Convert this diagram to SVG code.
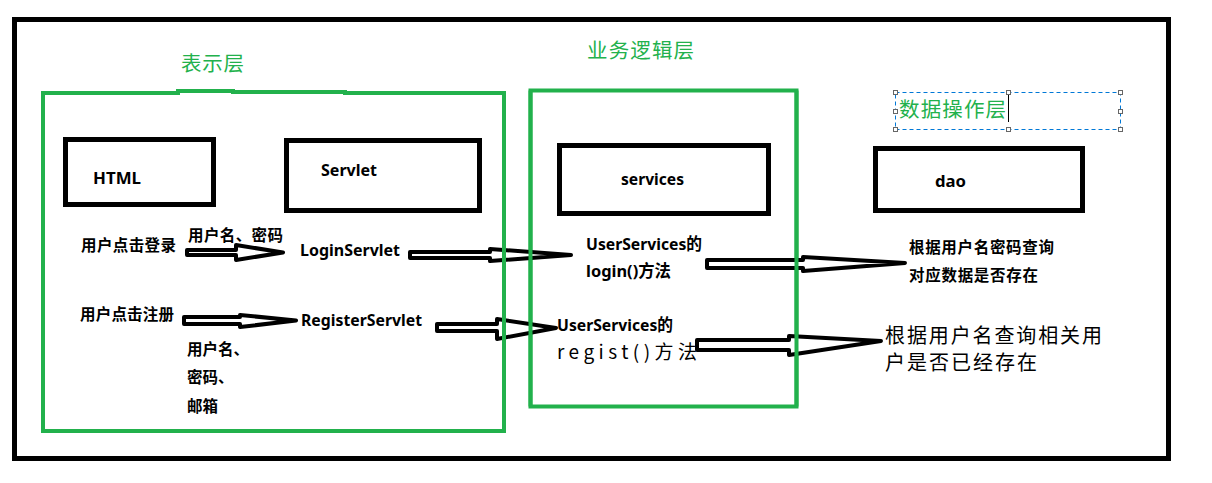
<svg xmlns="http://www.w3.org/2000/svg" width="1212" height="483" viewBox="0 0 1212 483">
<style>
.frame{fill:none;stroke:#000;stroke-width:5}
.layer{fill:none;stroke:#22b14c;stroke-width:4}
.box{fill:#fff;stroke:#000;stroke-width:5}
.arrow{fill:#fff;stroke:#000;stroke-width:4;stroke-linejoin:round}
.b{font-family:"Noto Sans","Noto Sans CJK SC",sans-serif;font-weight:bold;font-size:16.5px;fill:#000}
.cjk{font-family:"Noto Sans CJK SC",sans-serif;font-weight:bold;font-size:15.5px;fill:#000}
.sf{font-family:"Noto Sans CJK SC",sans-serif;font-weight:normal;fill:#000}
.head{font-family:"Noto Sans CJK SC",sans-serif;font-size:20.5px;fill:#22b14c}
.sel{fill:none;stroke:#0078d7;stroke-width:1;stroke-dasharray:4 3}
.hd{fill:#fff;stroke:#666;stroke-width:1}
</style>
<rect width="1212" height="483" fill="#fff"/>
<rect class="frame" x="14.5" y="19.5" width="1154" height="439"/>

<g id="layer-presentation">
<path class="layer" d="M43,431 V93 H178 V91 H233 V92 H345 V93 H504 V431 Z"/>
<text class="head" x="181" y="71" textLength="63">表示层</text>
</g>
<g id="layer-business">
<rect class="layer" x="530.5" y="90.5" width="266" height="316"/>
<text class="head" x="587" y="58" textLength="107">业务逻辑层</text>
</g>
<g id="layer-data">
<rect class="sel" x="895.5" y="92.5" width="225" height="37"/>
<rect class="hd" x="893.5" y="90.5" width="4" height="4"/>
<rect class="hd" x="1006.5" y="90.5" width="4" height="4"/>
<rect class="hd" x="1118.5" y="90.5" width="4" height="4"/>
<rect class="hd" x="893.5" y="109.5" width="4" height="4"/>
<rect class="hd" x="1118.5" y="109.5" width="4" height="4"/>
<rect class="hd" x="893.5" y="127.5" width="4" height="4"/>
<rect class="hd" x="1006.5" y="127.5" width="4" height="4"/>
<rect class="hd" x="1118.5" y="127.5" width="4" height="4"/>
<text class="head" x="899" y="117" textLength="107">数据操作层</text>
<line x1="1008.5" y1="95" x2="1008.5" y2="122" stroke="#000" stroke-width="1"/>
</g>

<g id="node-html">
<rect class="box" x="65.5" y="139.5" width="148" height="65"/>
<text class="b" x="93" y="184" textLength="48" lengthAdjust="spacingAndGlyphs">HTML</text>
</g>
<g id="node-servlet">
<rect class="box" x="286.5" y="140.5" width="193" height="70"/>
<text class="b" x="321" y="176" textLength="56" lengthAdjust="spacingAndGlyphs">Servlet</text>
</g>
<g id="node-services">
<rect class="box" x="559.5" y="145.5" width="209" height="68"/>
<text class="b" x="621" y="185" textLength="63" lengthAdjust="spacingAndGlyphs">services</text>
</g>
<g id="node-dao">
<rect class="box" x="875.5" y="148.5" width="207" height="62"/>
<text class="b" x="935" y="187" textLength="31" lengthAdjust="spacingAndGlyphs">dao</text>
</g>

<g id="node-login-click">
<text class="cjk" x="81" y="251" textLength="95">用户点击登录</text>
</g>
<g id="node-register-click">
<text class="cjk" x="80" y="320" textLength="94">用户点击注册</text>
</g>
<g id="node-loginservlet">
<text class="b" x="300" y="256" textLength="100" lengthAdjust="spacingAndGlyphs">LoginServlet</text>
</g>
<g id="node-registerservlet">
<text class="b" x="301" y="326" textLength="121" lengthAdjust="spacingAndGlyphs">RegisterServlet</text>
</g>
<g id="node-login-method">
<text class="b" x="586" y="250" textLength="116" lengthAdjust="spacingAndGlyphs">UserServices的</text>
<text class="b" x="586" y="277" textLength="85" lengthAdjust="spacingAndGlyphs">login()方法</text>
</g>
<g id="node-regist-method">
<text class="b" x="557" y="331" textLength="116" lengthAdjust="spacingAndGlyphs">UserServices的</text>
<text class="sf" x="557" y="359" font-size="19" textLength="140">regist()方法</text>
</g>
<g id="node-dao-login">
<text class="cjk" x="909" y="253" textLength="145">根据用户名密码查询</text>
<text class="cjk" x="909" y="281" textLength="129">对应数据是否存在</text>
</g>
<g id="node-dao-regist">
<text class="sf" x="885" y="343" font-size="20" textLength="217">根据用户名查询相关用</text>
<text class="sf" x="885" y="370" font-size="20" textLength="152">户是否已经存在</text>
</g>

<g id="connectors">
<path class="arrow" d="M187,250 H236 V245 L283,252.5 L236,260 V255 H187 Z"/>
<path class="arrow" d="M184,317 H240 V315 L296,320.5 L240,327 V324 H184 Z"/>
<path class="arrow" d="M410,252 H490 V249 L571,255 L490,261 V258 H410 Z"/>
<path class="arrow" d="M437,324 H497 V319 L556,328 L497,339 V331 H437 Z"/>
<path class="arrow" d="M707,260 H803 V257 L905,263 L803,271 V268 H707 Z"/>
<path class="arrow" d="M697,340 H789 V336 L881,341 L789,355 V350 H697 Z"/>
<text class="cjk" x="188" y="241" textLength="95">用户名、密码</text>
<text class="cjk" x="187" y="355">用户名、</text>
<text class="cjk" x="187" y="383">密码、</text>
<text class="cjk" x="187" y="412">邮箱</text>
</g>
<g id="layer-lines">
<line x1="504" y1="93" x2="504" y2="431" stroke="#22b14c" stroke-width="4"/>
<line x1="530.5" y1="90.5" x2="530.5" y2="406.5" stroke="#22b14c" stroke-width="4"/>
<line x1="796.5" y1="90.5" x2="796.5" y2="406.5" stroke="#22b14c" stroke-width="4"/>
</g>
</svg>
